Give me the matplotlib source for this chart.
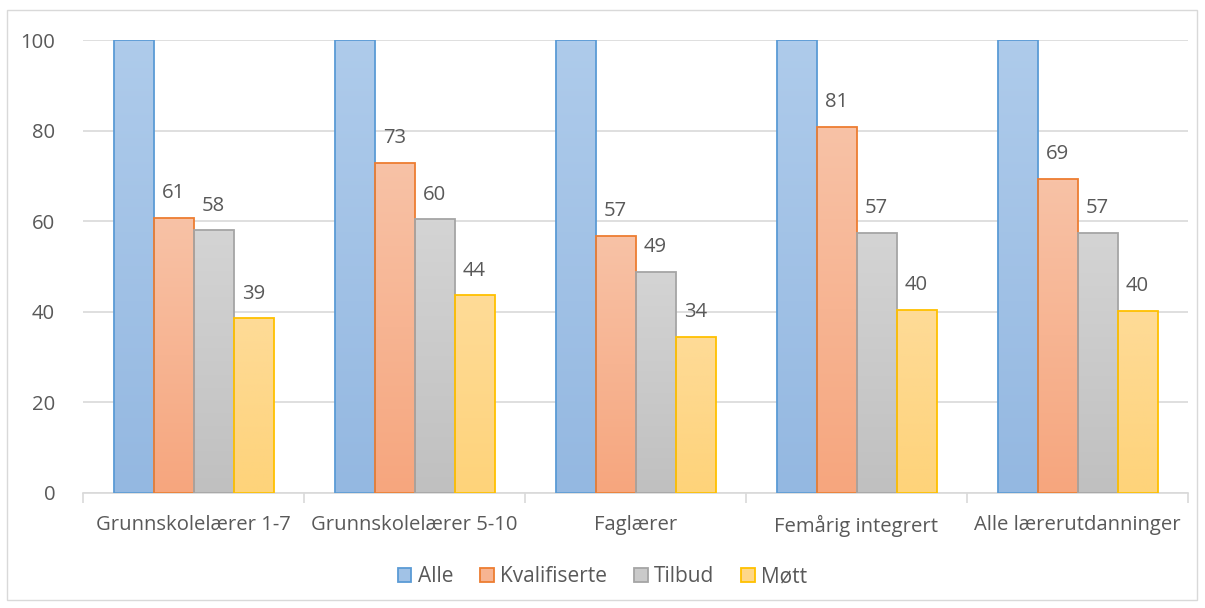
import matplotlib
matplotlib.use("Agg")
import matplotlib.pyplot as plt
import numpy as np
from matplotlib.patches import Rectangle, Patch
from matplotlib.colors import LinearSegmentedColormap

categories = ["Grunnskolelærer 1-7", "Grunnskolelærer 5-10", "Faglærer",
              "Femårig integrert", "Alle lærerutdanninger"]
series_names = ["Alle", "Kvalifiserte", "Tilbud", "Møtt"]
alle = [100, 100, 100, 100, 100]
kvalifiserte = [60.8, 72.9, 56.8, 80.9, 69.4]
tilbud = [58.0, 60.4, 48.8, 57.4, 57.4]
mott = [38.6, 43.6, 34.5, 40.5, 40.2]
series_values = [alle, kvalifiserte, tilbud, mott]
show_labels = [False, True, True, True]
yticks = [0, 20, 40, 60, 80, 100]

top_colors = ["#aecbeb", "#f8c2a6", "#d4d4d4", "#fedb97"]
bot_colors = ["#94b8e1", "#f6a67e", "#c0c0c0", "#fed37a"]
edge_colors = ["#5b9bd5", "#ed7d31", "#a5a5a5", "#ffc000"]

plt.rcParams['font.family'] = ['Open Sans', 'DejaVu Sans']
txt = "#595959"
fs = 14.6

fig = plt.figure(figsize=(12.05, 6.08), dpi=100)
fig.patches.append(Rectangle((7/1205, 8/608), 1190/1205, 590/608, transform=fig.transFigure,
                             fill=False, edgecolor="#d9d9d9", linewidth=1.0))
ax = fig.add_axes([83/1205, 1 - 493/608, (1188-83)/1205, (493-40)/608])

n = len(categories)
x = np.arange(n)
bw = 40 / 221.0
offsets = (np.arange(4) - 1.5) * bw

grad = np.linspace(0, 1, 64).reshape(-1, 1)
for i, vals in enumerate(series_values):
    cmap = LinearSegmentedColormap.from_list("g%d" % i, [top_colors[i], bot_colors[i]])
    bars = ax.bar(x + offsets[i], vals, width=bw, facecolor="none",
                  edgecolor=edge_colors[i], linewidth=1.3, zorder=3, label=series_names[i])
    for b in bars:
        x0, y0 = b.get_x(), b.get_y()
        w, h = b.get_width(), b.get_height()
        im = ax.imshow(grad, cmap=cmap, aspect="auto", extent=(x0, x0 + w, y0, y0 + h),
                       origin="upper", zorder=2, interpolation="bilinear")
        im.set_clip_path(b)
    if show_labels[i]:
        for xi, v in zip(x + offsets[i], vals):
            ax.text(xi, v + 3.2, "%d" % round(v), ha="center", va="bottom",
                    fontsize=fs, color=txt)

ax.set_xlim(-0.5, n - 0.5)
ax.set_ylim(0, 100)
ax.set_yticks(yticks)
ax.set_yticklabels([str(t) for t in yticks], fontsize=fs, color=txt)
ax.yaxis.grid(True, color="#d9d9d9", linewidth=1.2, zorder=0)
ax.set_axisbelow(True)
ax.tick_params(axis="y", length=0, pad=20)
ax.set_xticks(x)
ax.set_xticklabels(categories, fontsize=fs, color=txt)
ax.tick_params(axis="x", length=0, pad=16)
ax.set_xticks(np.arange(-0.5, n, 1.0), minor=True)
ax.tick_params(axis="x", which="minor", length=7, color="#d9d9d9", width=1.2)
for s in ["top", "right", "left"]:
    ax.spines[s].set_visible(False)
ax.spines["bottom"].set_color("#d9d9d9")
ax.spines["bottom"].set_linewidth(1.2)

handles = [Patch(facecolor=(np.array(matplotlib.colors.to_rgb(top_colors[i])) +
                            np.array(matplotlib.colors.to_rgb(bot_colors[i]))) / 2,
                 edgecolor=edge_colors[i], linewidth=1.3, label=series_names[i]) for i in range(4)]
fig.legend(handles=handles, loc="center", bbox_to_anchor=(0.5, 1 - 577/608), ncol=4,
           frameon=False, fontsize=fs + 0.4, labelcolor=txt, handlelength=0.65, handleheight=0.65,
           handletextpad=0.3, columnspacing=1.3)

fig.savefig("out.png", dpi=100)
